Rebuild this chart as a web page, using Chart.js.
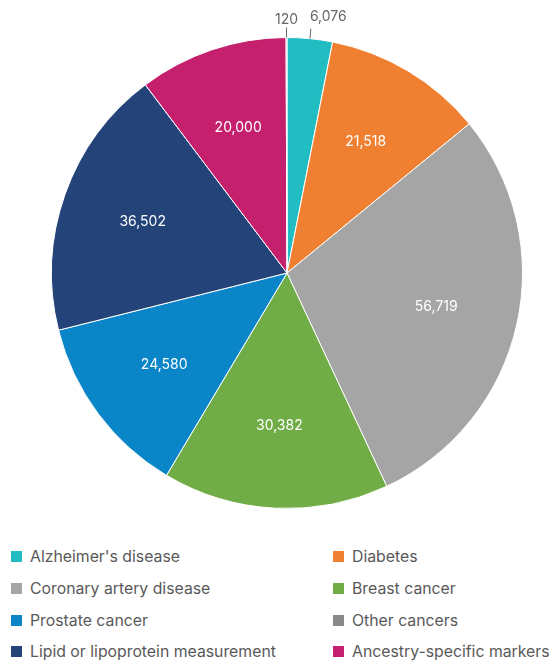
<!DOCTYPE html>
<html>
<head>
<meta charset="utf-8">
<script src="https://cdn.jsdelivr.net/npm/chart.js@4/dist/chart.umd.min.js"></script>
<style>
  html, body { margin: 0; padding: 0; background: #fff; }
  body { width: 553px; height: 664px; overflow: hidden; font-family: Inter, "Noto Sans", sans-serif; }
  #wrap { position: relative; width: 553px; height: 530px; }
  #legend {
    display: grid;
    grid-template-columns: 322px 231px;
    margin-top: 11px;
    padding-left: 11px;
  }
  .item { display: flex; align-items: center; height: 31.7px; font-size: 15.8px; color: #595959; white-space: nowrap; }
  .box { width: 11px; height: 11px; margin-right: 8px; flex: none; }
</style>
</head>
<body>
<div id="wrap"><canvas id="pie"></canvas></div>
<div id="legend"></div>
<script>
// categories and values, in legend order
const categories = [
  "Alzheimer's disease",
  'Diabetes',
  'Coronary artery disease',
  'Breast cancer',
  'Prostate cancer',
  'Other cancers',
  'Lipid or lipoprotein measurement',
  'Ancestry-specific markers'
];
const values = [6076, 21518, 56719, 30382, 24580, 120, 36502, 20000];
const colors = ['#22BDC3', '#EF7F31', '#A5A5A5', '#70AD47', '#0A85C8', '#8A8A8A', '#244479', '#C4206E'];
// order the slices run clockwise from 12 o'clock
const sliceOrder = [0, 1, 2, 3, 4, 6, 7, 5];

const fmt = v => v.toLocaleString('en-US');

// Labels inside big slices, outside with a leader line for tiny ones
const sliceLabels = {
  id: 'sliceLabels',
  afterDatasetsDraw(chart) {
    const ctx = chart.ctx;
    const meta = chart.getDatasetMeta(0);
    const total = values.reduce((a, b) => a + b, 0);
    ctx.save();
    ctx.font = '14px Inter, "Noto Sans", sans-serif';
    meta.data.forEach((arc, i) => {
      const v = chart.data.datasets[0].data[i];
      const mid = (arc.startAngle + arc.endAngle) / 2;
      const cx = arc.x, cy = arc.y, R = arc.outerRadius;
      if (v / total > 0.05) {
        const r = R * 0.65;
        ctx.fillStyle = '#ffffff';
        ctx.textAlign = 'center';
        ctx.textBaseline = 'middle';
        ctx.fillText(fmt(v), cx + Math.cos(mid) * r, cy + Math.sin(mid) * r);
      } else {
        const x0 = cx + Math.cos(mid) * R, y0 = cy + Math.sin(mid) * R;
        const x1 = cx + Math.cos(mid) * (R + 10), y1 = cy + Math.sin(mid) * (R + 10);
        ctx.strokeStyle = '#666';
        ctx.lineWidth = 1;
        ctx.beginPath();
        ctx.moveTo(x0, y0);
        ctx.lineTo(x1, y1);
        ctx.stroke();
        ctx.fillStyle = '#666';
        ctx.textBaseline = 'bottom';
        const c = Math.cos(mid);
        if (Math.abs(c) < 0.03) {
          ctx.textAlign = 'center';
          ctx.fillText(fmt(v), x1, y1 - 1);
        } else {
          ctx.textAlign = c > 0 ? 'left' : 'right';
          ctx.fillText(fmt(v), x1 + (c > 0 ? -1 : 1), y1 - 5);
        }
      }
    });
    ctx.restore();
  }
};

new Chart(document.getElementById('pie'), {
  type: 'pie',
  data: {
    labels: sliceOrder.map(i => categories[i]),
    datasets: [{
      data: sliceOrder.map(i => values[i]),
      backgroundColor: sliceOrder.map(i => colors[i]),
      borderColor: '#ffffff',
      borderWidth: 1
    }]
  },
  options: {
    responsive: true,
    maintainAspectRatio: false,
    animation: false,
    layout: { padding: { top: 37, bottom: 21, left: 21, right: 0 } },
    plugins: {
      legend: { display: false },
      tooltip: { enabled: false }
    }
  },
  plugins: [sliceLabels]
});

// two-column legend in category order
const legend = document.getElementById('legend');
categories.forEach((name, i) => {
  const item = document.createElement('div');
  item.className = 'item';
  item.innerHTML = `<span class="box" style="background:${colors[i]}"></span><span>${name}</span>`;
  legend.appendChild(item);
});
</script>
</body>
</html>
